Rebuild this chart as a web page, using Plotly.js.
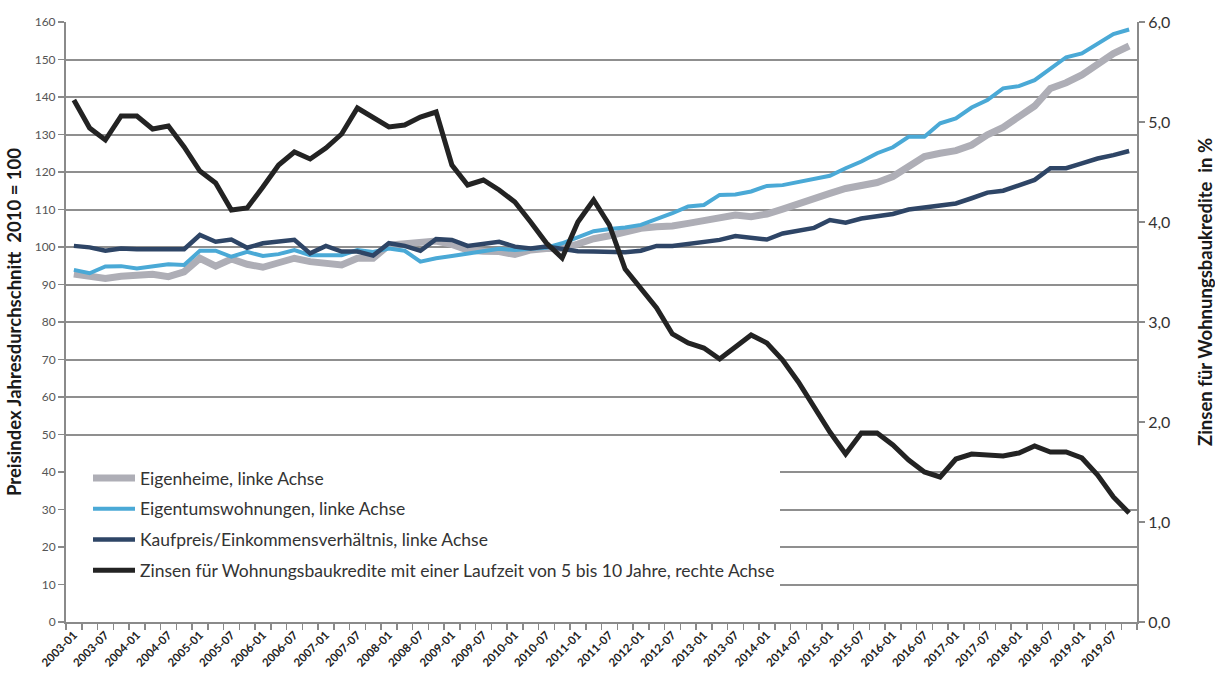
<!DOCTYPE html>
<html>
<head>
<meta charset="utf-8">
<script src="https://cdn.plot.ly/plotly-3.0.1.min.js"></script>
<style>html,body{margin:0;padding:0;background:#fff;}#chart{width:1215px;height:673px;}</style>
</head>
<body>
<div id="chart"></div>
<script>
const categories = [
"2003-01","2003-04","2003-07","2003-10","2004-01","2004-04","2004-07","2004-10",
"2005-01","2005-04","2005-07","2005-10","2006-01","2006-04","2006-07","2006-10",
"2007-01","2007-04","2007-07","2007-10","2008-01","2008-04","2008-07","2008-10",
"2009-01","2009-04","2009-07","2009-10","2010-01","2010-04","2010-07","2010-10",
"2011-01","2011-04","2011-07","2011-10","2012-01","2012-04","2012-07","2012-10",
"2013-01","2013-04","2013-07","2013-10","2014-01","2014-04","2014-07","2014-10",
"2015-01","2015-04","2015-07","2015-10","2016-01","2016-04","2016-07","2016-10",
"2017-01","2017-04","2017-07","2017-10","2018-01","2018-04","2018-07","2018-10",
"2019-01","2019-04","2019-07","2019-10"];

const tickLabels = [
"2003-01","2003-07","2004-01","2004-07","2005-01","2005-07","2006-01","2006-07",
"2007-01","2007-07","2008-01","2008-07","2009-01","2009-07","2010-01","2010-07",
"2011-01","2011-07","2012-01","2012-07","2013-01","2013-07","2014-01","2014-07",
"2015-01","2015-07","2016-01","2016-07","2017-01","2017-07","2018-01","2018-07",
"2019-01","2019-07"];

const eigenheime = [
92.8,92.1,91.6,92.2,92.3,92.7,92.1,93.4,97.0,94.9,96.8,95.4,94.6,95.9,97.0,96.1,
95.7,95.2,97.0,97.0,100.5,101.0,101.4,101.6,100.7,99.2,98.9,98.8,98.0,99.2,99.6,99.6,
100.8,102.2,103.0,104.0,105.0,105.4,105.6,106.3,107.0,107.6,108.5,108.1,108.8,110.1,111.6,112.9,
114.3,115.6,116.5,117.2,118.8,121.4,124.1,125.0,125.7,127.2,129.9,131.9,134.8,137.6,142.3,143.8,
145.9,149.0,151.6,153.6];

const eigentumswohnungen = [
93.9,93.0,94.8,94.9,94.3,94.8,95.4,95.2,99.0,99.0,97.4,98.7,97.6,98.1,99.2,97.8,
97.8,97.8,99.2,98.7,99.6,99.0,96.1,97.0,97.6,98.3,98.9,99.5,99.2,99.5,99.8,101.0,
102.6,104.2,104.8,105.2,105.9,107.4,109.0,110.8,111.2,113.9,114.0,114.8,116.3,116.5,117.4,118.3,
119.0,121.0,122.8,125.0,126.6,129.4,129.4,133.0,134.3,137.2,139.2,142.3,142.9,144.5,147.4,150.6,
151.6,154.3,156.8,158.0];

const kaufpreisEinkommen = [
100.3,99.9,99.0,99.6,99.4,99.4,99.4,99.4,103.2,101.4,102.0,99.8,101.0,101.4,101.9,98.3,
100.3,98.8,98.8,97.7,101.0,100.3,99.0,102.1,101.9,100.3,100.7,101.4,100.1,99.6,100.1,99.6,
98.9,98.8,98.7,98.6,99.0,100.3,100.3,100.8,101.4,101.9,102.9,102.3,102.0,103.6,104.4,105.1,
107.2,106.5,107.6,108.1,108.8,110.0,110.6,111.2,111.6,113.0,114.5,115.0,116.3,117.9,121.0,121.0,
122.3,123.6,124.5,125.6];

const zinsen = [
5.22,4.94,4.82,5.06,5.06,4.93,4.96,4.75,4.51,4.39,4.12,4.14,4.35,4.57,4.70,4.63,
4.74,4.88,5.14,5.05,4.95,4.97,5.05,5.10,4.57,4.37,4.42,4.32,4.20,4.00,3.79,3.64,
4.00,4.22,3.97,3.53,3.33,3.14,2.88,2.79,2.74,2.63,2.75,2.87,2.79,2.62,2.40,2.15,
1.90,1.68,1.89,1.89,1.77,1.62,1.50,1.45,1.63,1.68,1.67,1.66,1.69,1.76,1.70,1.70,
1.64,1.47,1.25,1.09];

const seriesNames = [
"Eigenheime, linke Achse",
"Eigentumswohnungen, linke Achse",
"Kaufpreis/Einkommensverhältnis, linke Achse",
"Zinsen für Wohnungsbaukredite mit einer Laufzeit von 5 bis 10 Jahre, rechte Achse"];

const leftTitle = "Preisindex Jahresdurchschnitt  2010 = 100";
const rightTitle = "Zinsen für Wohnungsbaukredite  in %";

const xIdx = categories.map((c, i) => i);
const tickIdx = tickLabels.map(t => categories.indexOf(t));

const traces = [
  {x: xIdx, y: eigenheime, name: seriesNames[0], legendgroup: "a", yaxis: "y",
   mode: "lines", line: {color: "#aeaeb6", width: 7}},
  {x: xIdx, y: eigentumswohnungen, name: seriesNames[1], legendgroup: "b", yaxis: "y",
   mode: "lines", line: {color: "#4aa9d6", width: 4}},
  {x: xIdx, y: kaufpreisEinkommen, name: seriesNames[2], legendgroup: "c", yaxis: "y",
   mode: "lines", line: {color: "#2e4566", width: 4.5}},
  {x: xIdx, y: zinsen, name: seriesNames[3], legendgroup: "d", yaxis: "y2",
   mode: "lines", line: {color: "#232323", width: 5}}
];

const layout = {
  width: 1215, height: 673,
  margin: {l: 66, r: 78, t: 22, b: 51},
  paper_bgcolor: "#fff", plot_bgcolor: "#fff",
  separators: ",.",
  font: {family: "Lato, 'Open Sans', sans-serif", color: "#333"},
  showlegend: true,
  legend: {
    x: 0, xanchor: "left", y: 0.27, yanchor: "top",
    bgcolor: "#ffffff", borderwidth: 0,
    font: {size: 17.5, color: "#333", family: "Lato, sans-serif"},
    traceorder: "grouped", tracegroupgap: 5, indentation: 22, itemwidth: 42
  },
  xaxis: {
    range: [-0.5, 67.5], fixedrange: true,
    tickvals: tickIdx, ticktext: tickLabels, tickangle: -45,
    ticks: "", showgrid: false, zeroline: false,
    showline: true, linecolor: "#8a8a8a", linewidth: 2,
    tickfont: {size: 11.5, color: "#222", family: "Lato, sans-serif", weight: "bold"},
    minor: {tick0: -0.5, dtick: 1, ticks: "outside", ticklen: 6, tickcolor: "#8a8a8a", tickwidth: 1.5, showgrid: false}
  },
  yaxis: {
    range: [0, 160], dtick: 10, tick0: 0,
    showgrid: true, gridcolor: "#8f8f8f", gridwidth: 2,
    zeroline: false, showline: true, linecolor: "#8a8a8a", linewidth: 2,
    ticks: "outside", ticklen: 6, tickcolor: "#8a8a8a", tickwidth: 1.5,
    tickfont: {size: 12, color: "#555"},
    title: {text: leftTitle, standoff: 8,
            font: {size: 18.5, color: "#1a1a1a", family: "Lato, sans-serif", weight: "bold"}}
  },
  yaxis2: {
    overlaying: "y", side: "right", range: [0, 6], dtick: 1, tick0: 0,
    tickformat: ".1f", showgrid: false, zeroline: false,
    showline: true, linecolor: "#8a8a8a", linewidth: 2,
    ticks: "outside", ticklen: 6, tickcolor: "#8a8a8a", tickwidth: 1.5,
    tickfont: {size: 16, color: "#333"}
  },
  annotations: [{
    text: rightTitle, xref: "paper", yref: "paper", x: 1.0635, y: 0.55,
    xanchor: "center", yanchor: "middle", textangle: -90, showarrow: false,
    font: {size: 18.5, color: "#1a1a1a", family: "Lato, sans-serif", weight: "bold"}
  }]
};

Plotly.newPlot("chart", traces, layout, {staticPlot: true, displayModeBar: false});
</script>
</body>
</html>
